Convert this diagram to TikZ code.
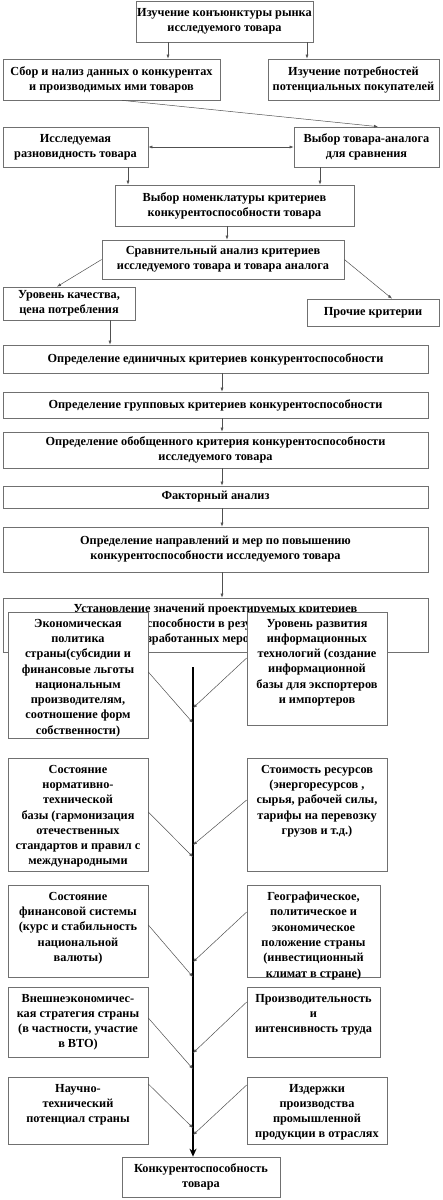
\documentclass[tikz,border=0pt]{standalone}
\usepackage{fontspec}
\setmainfont{Liberation Serif}
\usetikzlibrary{arrows.meta,calc}
\definecolor{boxgray}{HTML}{707070}
\definecolor{linegray}{HTML}{505050}
\tikzset{
  box/.style={draw=boxgray, line width=0.7pt, inner sep=0pt, align=center, fill=white,
    font=\bfseries\fontsize{12.3}{15}\selectfont},
  lbox/.style={draw=boxgray, line width=0.7pt, inner sep=0pt, fill=white,
    font=\bfseries\fontsize{12.3}{15.3}\selectfont},
  con/.style={draw=linegray, line width=0.5pt, -{Latex[length=4pt,width=3pt]}},
  dcon/.style={draw=linegray, line width=0.5pt, {Latex[length=4pt,width=3pt]}-{Latex[length=4pt,width=3pt]}},
  spine/.style={draw=black, line width=1.8pt, -{Stealth[length=8pt,width=7pt]}},
}
\newcommand\mytop[3]{\parbox[c][#2][t]{#1}{\centering\vspace*{7pt}#3\par}}
\begin{document}
\begin{tikzpicture}[x=1pt,y=-1pt]
\useasboundingbox (0,0) rectangle (442,1200);
% upper flow
\node[box, minimum width=177pt, minimum height=41pt] (b1) at (224.5,21.5) {Изучение конъюнктуры рынка\\исследуемого товара};
\node[box, minimum width=217pt, minimum height=41pt] (b2) at (111.5,79.5) {Сбор и нализ данных о конкурентах\\и производимых ими товаров};
\node[box, minimum width=171pt, minimum height=41pt] (b3) at (353.5,79.5) {Изучение потребностей\\потенциальных покупателей};
\node[box, minimum width=145pt, minimum height=40pt] (b4) at (75.5,147) {Исследуемая\\разновидность товара};
\node[box, minimum width=145pt, minimum height=40pt] (b5) at (366.5,147) {Выбор товара-аналога\\для сравнения};
\node[box, minimum width=239pt, minimum height=41pt] (b6) at (234.5,205.5) {Выбор номенклатуры критериев\\конкурентоспособности товара};
\node[box, minimum width=242pt, minimum height=39pt] (b7) at (223,259.5) {Сравнительный анализ критериев\\исследуемого товара и товара аналога};
\node[box, minimum width=132pt, minimum height=33pt] (b8) at (69,303.5) {Уровень качества,\\цена потребления};
\node[box, minimum width=132pt, minimum height=27pt] (b9) at (373,312.5) {Прочие критерии};
\node[box, minimum width=425pt, minimum height=28pt] (b10) at (215.5,359) {Определение единичных критериев конкурентоспособности};
\node[box, minimum width=425pt, minimum height=26pt] (b11) at (215.5,405) {Определение групповых критериев конкурентоспособности};
\node[box, minimum width=425pt, minimum height=36pt] (b12) at (215.5,450) {Определение обобщенного критерия конкурентоспособности\\исследуемого товара};
\node[box, minimum width=425pt, minimum height=22pt] (b13) at (215.5,497) {Факторный анализ};
\node[box, minimum width=425pt, minimum height=45pt] (b14) at (215.5,549.5) {Определение направлений и мер по повышению\\конкурентоспособности исследуемого товара};
\node[box, minimum width=425pt, minimum height=54pt] (b15) at (215.5,625) {Установление значений проектируемых критериев\\конкурентоспособности в результате внедрения\\разработанных мероприятий};
% connectors upper
\draw[con] (b1.south -| 168,0) -- (b2.north -| 168,0);
\draw[con] (b1.south -| 307,0) -- (b3.north -| 307,0);
\draw[con] (b2.south -| 122,0) -- (b5.north -| 378,0);
\draw[dcon] (b4.east) -- (b5.west);
\draw[con] (b4.south -| 128,0) -- (b6.north -| 128,0);
\draw[con] (b5.south -| 320,0) -- (b6.north -| 320,0);
\draw[con] (b6.south -| 227,0) -- (b7.north -| 227,0);
\draw[con] (b7.west) -- (b8.north -| 57,0);
\draw[con] (b7.east) -- (b9.north -| 392,0);
\draw[con] (b8.south -| 110,0) -- (b10.north -| 110,0);
\draw[con] (b10.south -| 222,0) -- (b11.north -| 222,0);
\draw[con] (b11.south -| 222,0) -- (b12.north -| 222,0);
\draw[con] (b12.south -| 222,0) -- (b13.north -| 222,0);
\draw[con] (b13.south -| 222,0) -- (b14.north -| 222,0);
\draw[con] (b14.south -| 222,0) -- (b15.north -| 222,0);
% lower factor boxes
\node[lbox] (f1) at (78,675) {\mytop{140pt}{126pt}{Экономическая\\политика\\страны(субсидии и\\финансовые льготы\\национальным\\производителям,\\соотношение форм\\собственности)}};
\node[lbox] (g1) at (317,668.5) {\mytop{140pt}{113pt}{Уровень развития\\информационных\\технологий (создание\\информационной\\базы для экспортеров\\и импортеров}};
\node[lbox] (f2) at (78,814.5) {\mytop{140pt}{113pt}{Состояние\\нормативно-\\технической\\базы (гармонизация\\отечественных\\стандартов и правил с\\международными}};
\node[lbox] (g2) at (317,814.5) {\mytop{140pt}{113pt}{Стоимость ресурсов\\(энергоресурсов ,\\сырья, рабочей силы,\\тарифы на перевозку\\грузов и т.д.)}};
\node[lbox] (f3) at (78,931) {\mytop{140pt}{92pt}{Состояние\\финансовой системы\\(курс и стабильность\\национальной\\валюты)}};
\node[lbox] (g3) at (313.5,931) {\mytop{133pt}{92pt}{Географическое,\\политическое и\\экономическое\\положение страны\\(инвестиционный\\климат в стране)}};
\node[lbox] (f4) at (78,1022) {\mytop{140pt}{70pt}{Внешнеэкономичес-\\кая стратегия страны\\(в частности, участие\\в ВТО)}};
\node[lbox] (g4) at (313.5,1022) {\mytop{133pt}{70pt}{Производительность\\и\\интенсивность труда}};
\node[lbox] (f5) at (78,1110.5) {\mytop{140pt}{67pt}{Научно-\\технический\\потенциал страны}};
\node[lbox] (g5) at (317,1110.5) {\mytop{140pt}{67pt}{Издержки\\производства\\промышленной\\продукции в отраслях}};
\node[box, minimum width=158pt, minimum height=40pt] (res) at (201,1177) {Конкурентоспособность\\товара};
% spine
\coordinate (top) at (193,667);
\draw[spine] (top) -- (res.north -| top);
\coordinate (s1) at (193,723);
\coordinate (t1) at (193,708);
\coordinate (s2) at (193,857);
\coordinate (t2) at (193,845);
\coordinate (s3) at (193,977);
\coordinate (t3) at (193,962);
\coordinate (s4) at (193,1069);
\coordinate (t4) at (193,1053);
\coordinate (s5) at (193,1128);
\coordinate (t5) at (193,1135);
\draw[con] (f1.east |- 0,672) -- (s1);
\draw[con] (g1.west |- 0,658) -- (t1);
\draw[con] (f2.east |- 0,812) -- (s2);
\draw[con] (g2.west |- 0,800) -- (t2);
\draw[con] (f3.east |- 0,925) -- (s3);
\draw[con] (g3.west |- 0,912) -- (t3);
\draw[con] (f4.east |- 0,1018) -- (s4);
\draw[con] (g4.west |- 0,1002) -- (t4);
\draw[con] (f5.east |- 0,1084) -- (s5);
\draw[con] (g5.west |- 0,1085) -- (t5);
\end{tikzpicture}
\end{document}
